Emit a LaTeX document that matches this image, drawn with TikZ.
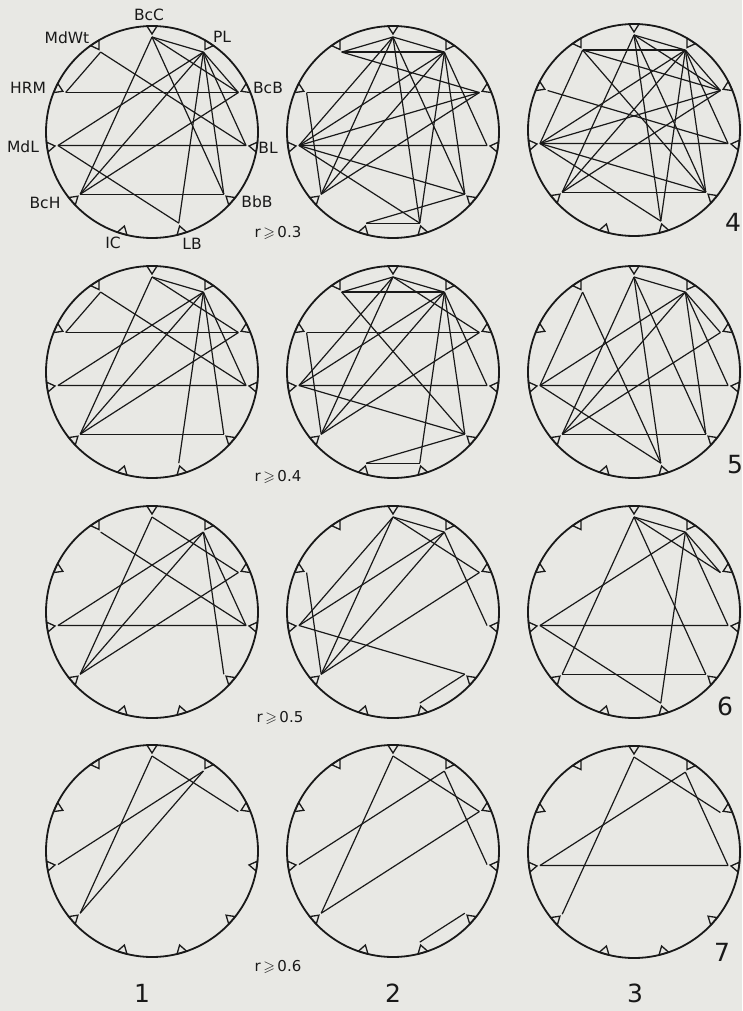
\documentclass[tikz,border=0pt]{standalone}
\usepackage{fontspec}
\usepackage{amssymb}
\setmainfont{DejaVu Sans}
\definecolor{paper}{RGB}{232,232,228}
\definecolor{ink}{RGB}{25,25,25}
\newcommand{\cdiag}[4]{%
  \begin{scope}[shift={(#1,#2)}]
    \draw[circ] (0,0) circle (106);
    \foreach \k in {0,...,10}{%
      \pgfmathsetmacro{\a}{90-\k*360/11}%
      \draw[tick] (\a-2.7:106) -- (\a:98) -- (\a+2.7:106) -- cycle;%
      \coordinate (#4p\k) at (\a:95);%
    }
    \foreach \i/\j in {#3}{%
      \draw[chord] (#4p\i) -- (#4p\j);%
    }
  \end{scope}}
\begin{document}
\begin{tikzpicture}[x=1pt,y=1pt,
  circ/.style={draw=ink,line width=1.8pt},
  tick/.style={draw=ink,line width=1.3pt,line join=miter},
  chord/.style={draw=ink,line width=1.2pt},
  lab/.style={text=ink,font=\fontsize{15.5}{15.5}\selectfont,inner sep=0pt},
  thr/.style={text=ink,font=\fontsize{15}{15}\selectfont,inner sep=0pt},
  big/.style={text=ink,font=\fontsize{25}{25}\selectfont,inner sep=0pt}]
\fill[paper] (0,0) rectangle (742,-1011);
\useasboundingbox (0,0) rectangle (742,-1011);
% row 1
\cdiag{152}{-132}{9/2,8/3,7/4,10/9,10/3,0/1,0/2,0/7,0/4,1/8,1/7,1/5,1/4,1/3,1/2,2/7,8/5}{a}
\cdiag{393}{-132}{10/1,9/2,8/3,6/5,6/4,10/0,0/1,0/7,0/5,0/4,10/2,1/8,1/7,1/5,1/4,1/3,8/4,8/5,8/0,9/7,2/7,2/8}{b}
\cdiag{634}{-130}{10/1,8/3,7/4,0/1,0/2,0/7,0/5,0/4,10/8,10/2,10/4,9/3,1/8,1/7,1/5,1/4,1/3,1/2,2/7,2/8,8/5,8/4}{c}
% row 2
\cdiag{152}{-372}{9/2,8/3,7/4,10/9,10/3,0/7,0/1,0/2,1/8,1/7,1/5,1/4,1/3,2/7}{d}
\cdiag{393}{-372}{10/1,9/2,8/3,0/10,0/8,0/7,0/1,0/2,10/4,1/8,1/7,1/5,1/4,1/3,9/7,2/7,8/4,6/5,6/4}{e}
\cdiag{634}{-372}{0/1,0/7,0/5,0/4,10/8,10/5,1/8,1/7,1/4,1/3,1/2,2/7,8/3,8/5,7/4}{f}
% row 3
\cdiag{152}{-612}{0/7,0/2,10/3,1/8,1/7,2/7,8/3,1/3,1/4}{g}
\cdiag{393}{-612}{0/8,0/7,0/1,0/2,1/8,1/7,1/3,9/7,2/7,8/4,5/4}{h}
\cdiag{634}{-612}{0/7,0/1,0/2,0/4,1/8,1/5,1/3,8/3,8/5,7/4,1/2}{i}
% row 4
\cdiag{152}{-851}{0/7,0/2,1/8,1/7}{j}
\cdiag{393}{-851}{0/7,0/2,1/8,1/3,2/7,5/4}{k}
\cdiag{634}{-852}{0/7,0/2,1/8,1/3,8/3}{l}
% labels of first circle
\node[lab] (lBcC) at (149,-15) {BcC};
\node[lab] (lMdWt) at (67,-38) {MdWt};
\node[lab] (lPL) at (222,-37) {PL};
\node[lab] (lHRM) at (28,-88) {HRM};
\node[lab] (lBcB) at (268,-88) {BcB};
\node[lab] (lMdL) at (23,-147) {MdL};
\node[lab] (lBL) at (268,-148) {BL};
\node[lab] (lBcH) at (45,-203) {BcH};
\node[lab] (lBbB) at (257,-202) {BbB};
\node[lab] (lIC) at (113,-243) {IC};
\node[lab] (lLB) at (192,-244) {LB};
% thresholds
\node[thr] (t3) at (278,-233) {r\,$\geqslant$\,0.3};
\node[thr] (t4) at (278,-477) {r\,$\geqslant$\,0.4};
\node[thr] (t5) at (280,-718) {r\,$\geqslant$\,0.5};
\node[thr] (t6) at (278,-967) {r\,$\geqslant$\,0.6};
% numbers
\node[big] (n4) at (733,-222) {4};
\node[big] (n5) at (735,-465) {5};
\node[big] (n6) at (725,-706) {6};
\node[big] (n7) at (722,-952) {7};
\node[big] (n1) at (142,-993) {1};
\node[big] (n2) at (393,-993) {2};
\node[big] (n3) at (635,-993) {3};
\end{tikzpicture}
\end{document}
